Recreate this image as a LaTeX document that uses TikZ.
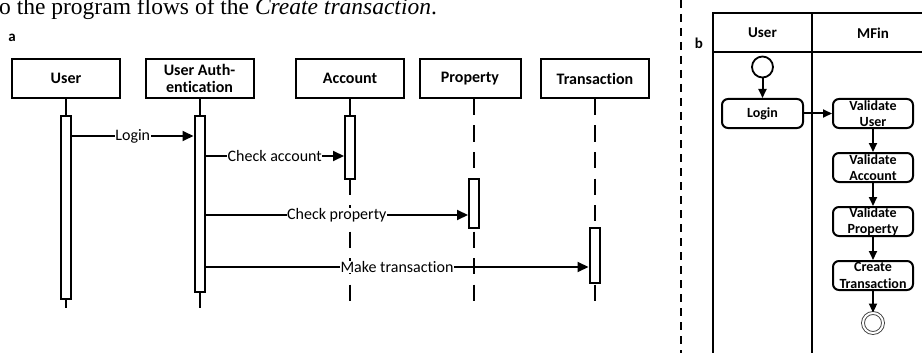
\documentclass[tikz,border=0pt]{standalone}
\usepackage{fontspec}
\setmainfont{Carlito}[Ligatures={NoCommon}]
\newfontfamily\capfont{Liberation Serif}
\usetikzlibrary{arrows.meta}
\begin{document}
\begin{tikzpicture}[x=1pt,y=-1pt,
  hdr/.style={draw,line width=2pt,minimum width=108pt,minimum height=39pt,inner sep=0pt,font=\fontsize{16}{18.5}\selectfont\bfseries,align=center},
  bar/.style={draw,fill=white,line width=2pt,minimum width=10pt,inner sep=0pt},
  life/.style={line width=2pt},
  dlife/.style={line width=2pt,dash pattern=on 16pt off 10.5pt},
  msg/.style={line width=2pt,-{Triangle[length=11pt,width=10pt]}},
  mlab/.style={fill=white,inner sep=0.6pt,font=\fontsize{16}{18}\selectfont},
  act/.style={draw,rounded corners=6pt,line width=2pt,minimum width=80pt,minimum height=29pt,inner sep=0pt,align=center,font=\fontsize{14}{16.5}\selectfont\bfseries},
  flow/.style={line width=2pt,-{Triangle[length=9pt,width=8pt]}},
  lane/.style={line width=2pt},
  plabel/.style={font=\fontsize{15}{18}\selectfont\bfseries,inner sep=0pt},
]
\useasboundingbox (0,0) rectangle (922,353);
\clip (0,0) rectangle (922,353);

% caption fragment
\node[anchor=base west,inner sep=0pt,font=\capfont\fontsize{23.5}{27}\selectfont] (cap) at (-1,15) {o the program flows of the \textit{Create transaction}.};

% ---------- part a ----------
\node[plabel] (la) at (12,38) {a};

\node[hdr] (huser) at (66,78.5) {User};
\node[hdr] (hauth) at (199.5,78.5) {User Auth-\\[-1pt]entication};
\node[hdr] (hacc)  at (350,78.5) {Account};
\node[hdr,minimum width=101pt] (hprop) at (470,78.5) {Property};
\node[hdr] (htra)  at (595,78.5) {Transaction};

\coordinate (eUser) at (66,308);
\coordinate (eAuth) at (199.5,308);
\coordinate (eAcc)  at (350,308);
\coordinate (eProp) at (474,308);
\coordinate (eTra)  at (594.5,308);

% lifelines
\draw[life] (huser.south) -- (eUser);
\draw[life] (hauth.south) -- (eAuth);
\draw[dlife] (hacc.south) -- (eAcc);
\draw[dlife] (hprop.south -| eProp) -- (eProp);
\draw[dlife] (htra.south -| eTra) -- (eTra);

% activation bars
\node[bar,minimum height=183pt] (bUser) at (66,207.5) {};
\node[bar,minimum height=176pt] (bAuth) at (199.5,204) {};
\node[bar,minimum height=63pt]  (bAcc)  at (350,147.5) {};
\node[bar,minimum height=49pt]  (bProp) at (474,203.5) {};
\node[bar,minimum height=55pt]  (bTra)  at (594.5,255.5) {};

% messages
\coordinate (yLogin) at (0,136);
\coordinate (yAcc) at (0,156);
\coordinate (yProp) at (0,215);
\coordinate (yTra) at (0,267);
\draw[msg] (bUser.east |- yLogin) -- node[mlab] (tLogin) {Login} (bAuth.west |- yLogin);
\draw[msg] (bAuth.east |- yAcc) -- node[mlab] (tAcc) {Check account} (bAcc.west |- yAcc);
\draw[msg] (bAuth.east |- yProp) -- node[mlab] (tProp) {Check property} (bProp.west |- yProp);
\draw[msg] (bAuth.east |- yTra) -- node[mlab] (tTra) {Make transaction} (bTra.west |- yTra);

% ---------- divider ----------
\coordinate (dTop) at (681,0);
\coordinate (dBot) at (681,353);
\draw[line width=2pt,dash pattern=on 8pt off 6pt] (dTop) -- (dBot);

% ---------- part b ----------
\node[plabel] (lb) at (699,43) {b};

\draw[lane] (930,13) -- (713,13) -- (713,360);
\draw[lane] (713,52) -- (930,52);
\draw[lane] (812,13) -- (812,360);
\node[plabel,font=\fontsize{15}{17}\selectfont\bfseries] (hU) at (762.5,33) {User};
\node[plabel,font=\fontsize{15}{17}\selectfont\bfseries] (hM) at (873,33) {MFin};

\node[draw,circle,line width=1.8pt,minimum size=21pt,inner sep=0pt] (start) at (762.5,67) {};
\node[act,minimum width=81pt] (login) at (762.5,113.5) {Login};
\node[act] (vu) at (873,113.5) {Validate\\User};
\node[act] (va) at (873,167.5) {Validate\\Account};
\node[act] (vp) at (873,221.5) {Validate\\Property};
\node[act] (ct) at (873,275.5) {Create\\Transaction};
\node[circle,draw=black!75,double=white,double distance=2pt,line width=0.9pt,minimum size=20pt,inner sep=0pt] (stop) at (873,323) {};

\draw[flow] (start) -- (login);
\draw[flow] (login) -- (vu);
\draw[flow] (vu) -- (va);
\draw[flow] (va) -- (vp);
\draw[flow] (vp) -- (ct);
\draw[flow] (ct) -- (stop);
\end{tikzpicture}
\end{document}
